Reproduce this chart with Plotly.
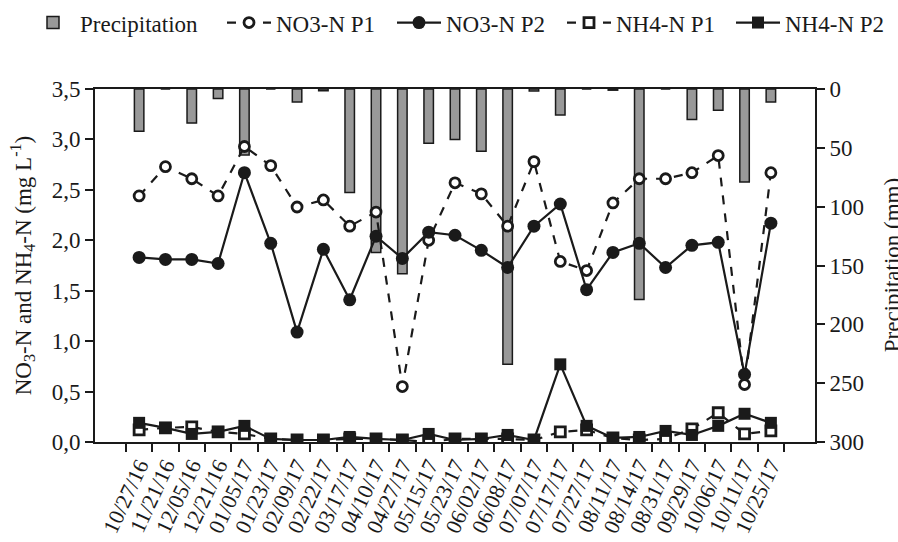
import plotly.graph_objects as go

dates = ["10/27/16", "11/21/16", "12/05/16", "12/21/16", "01/05/17", "01/23/17",
         "02/09/17", "02/22/17", "03/17/17", "04/10/17", "04/27/17", "05/15/17",
         "05/23/17", "06/02/17", "06/08/17", "07/07/17", "07/17/17", "07/27/17",
         "08/11/17", "08/14/17", "08/31/17", "09/29/17", "10/06/17", "10/11/17",
         "10/25/17"]

precipitation = [36, 0, 29, 8, 56, 0, 11, 1.4, 88, 139, 157, 46,
                 43, 53, 234, 1.7, 22, 0, 1, 179, 0, 26, 18, 79, 11]

no3_p1 = [2.44, 2.73, 2.61, 2.44, 2.93, 2.74, 2.33, 2.40, 2.14, 2.28, 0.55, 2.00,
          2.57, 2.46, 2.14, 2.78, 1.79, 1.70, 2.37, 2.61, 2.61, 2.67, 2.84, 0.57, 2.67]

no3_p2 = [1.83, 1.81, 1.81, 1.77, 2.67, 1.97, 1.09, 1.91, 1.41, 2.04, 1.82, 2.08,
          2.05, 1.90, 1.73, 2.14, 2.36, 1.51, 1.88, 1.97, 1.73, 1.95, 1.98, 0.67, 2.17]

nh4_p1 = [0.12, 0.14, 0.15, 0.10, 0.08, 0.03, 0.02, 0.02, 0.03, 0.03, 0.02, 0.00,
          0.03, 0.03, 0.03, 0.02, 0.10, 0.12, 0.04, 0.02, 0.03, 0.13, 0.29, 0.08, 0.11]

nh4_p2 = [0.19, 0.14, 0.08, 0.10, 0.16, 0.03, 0.02, 0.02, 0.05, 0.03, 0.02, 0.08,
          0.02, 0.03, 0.07, 0.02, 0.77, 0.16, 0.04, 0.05, 0.11, 0.07, 0.16, 0.28, 0.19]

FONT = "Liberation Serif"
INK = "#1a1a1a"
FS = 23

fig = go.Figure()

fig.add_trace(go.Bar(
    x=dates, y=precipitation, name="Precipitation", yaxis="y", legend="legend",
    marker=dict(color="#999999", line=dict(color=INK, width=1.5)),
    width=0.36,
))

fig.add_trace(go.Scatter(
    x=dates, y=no3_p1, name="NO3-N P1", yaxis="y2", mode="lines+markers", legend="legend2",
    line=dict(color=INK, width=2.2, dash="dash"),
    marker=dict(symbol="circle", size=10, color="white", line=dict(color=INK, width=2.8)),
))
fig.add_trace(go.Scatter(
    x=dates, y=no3_p2, name="NO3-N P2", yaxis="y2", mode="lines+markers", legend="legend3",
    line=dict(color=INK, width=2.2),
    marker=dict(symbol="circle", size=13, color=INK),
))
fig.add_trace(go.Scatter(
    x=dates, y=nh4_p1, name="NH4-N P1", yaxis="y2", mode="lines+markers", legend="legend4",
    line=dict(color=INK, width=2.2, dash="dash"),
    marker=dict(symbol="square", size=10, color="white", line=dict(color=INK, width=2.8)),
))
fig.add_trace(go.Scatter(
    x=dates, y=nh4_p2, name="NH4-N P2", yaxis="y2", mode="lines+markers", legend="legend5",
    line=dict(color=INK, width=2.2),
    marker=dict(symbol="square", size=12, color=INK),
))


def leg(xpx):
    return dict(orientation="h", xref="container", yref="container",
                x=xpx / 898, y=0.998, xanchor="left", yanchor="top",
                font=dict(size=23, family=FONT, color=INK), itemwidth=44,
                bgcolor="rgba(0,0,0,0)")


fig.update_layout(
    width=898, height=542,
    margin=dict(l=95, r=83, t=89, b=100),
    paper_bgcolor="white", plot_bgcolor="white",
    font=dict(family=FONT, size=FS, color=INK),
    separators=", ",
    showlegend=True,
    legend=leg(26), legend2=leg(222), legend3=leg(392), legend4=leg(562), legend5=leg(731),
    xaxis=dict(
        type="category", showline=True, linecolor=INK, linewidth=2, mirror=True,
        ticks="outside", tickson="boundaries", ticklen=8, tickwidth=1.5, tickcolor=INK,
        tickangle=-65, tickfont=dict(size=22), showgrid=False, automargin=False,
    ),
    yaxis=dict(
        side="right", range=[300, 0], tickvals=[0, 50, 100, 150, 200, 250, 300],
        showline=True, linecolor=INK, linewidth=2, ticks="outside", ticklen=8,
        tickwidth=1.5, tickcolor=INK, showgrid=False, zeroline=False,
        automargin=False,
    ),
    yaxis2=dict(
        side="left", overlaying="y", range=[0, 3.5],
        tickvals=[0, 0.5, 1, 1.5, 2, 2.5, 3, 3.5], tickformat=".1f",
        showline=True, linecolor=INK, linewidth=2, ticks="outside", ticklen=8,
        tickwidth=1.5, tickcolor=INK, showgrid=False, zeroline=False,
        title=dict(text="NO<sub>3</sub>-N and NH<sub>4</sub>-N (mg L<sup>-1</sup>)",
                   font=dict(size=FS), standoff=14),
        automargin=False,
    ),
    annotations=[dict(
        text="Precipitation (mm)", xref="paper", yref="paper", x=1.108, y=0.5,
        xanchor="center", yanchor="middle", textangle=-90, showarrow=False,
        font=dict(size=FS, family=FONT, color=INK),
    )],
    bargap=0.6,
)

fig.write_html("out.html")
